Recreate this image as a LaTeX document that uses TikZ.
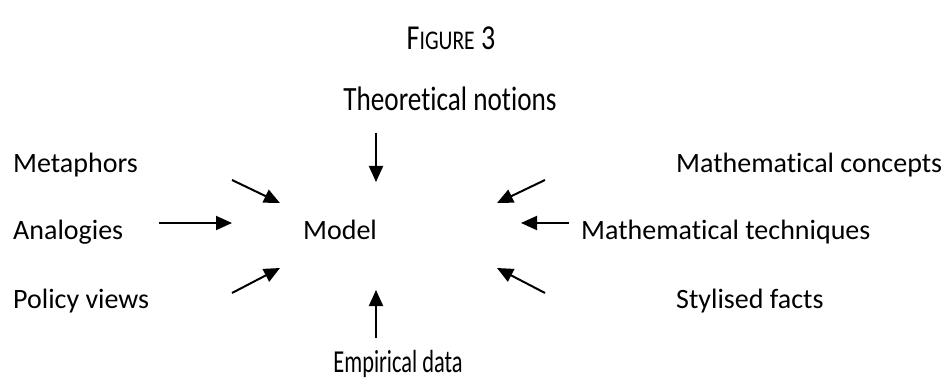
\documentclass[tikz,border=0pt]{standalone}
\usepackage{fontspec}
\setmainfont[Ligatures=NoCommon]{Carlito}
\newfontfamily\narrowfont[FakeStretch=0.8,Ligatures=NoCommon]{Carlito}
\newfontfamily\condfont[FakeStretch=0.7,Ligatures=NoCommon]{Carlito}
\usetikzlibrary{arrows.meta}
\begin{document}
\begin{tikzpicture}[x=1pt,y=-1pt]
\tikzstyle{label}=[inner sep=0pt,text height=18pt,text depth=0pt,font=\fontsize{28}{32}\selectfont]
\tikzstyle{narrow}=[inner sep=0pt,text depth=0pt]
\tikzstyle{arrow}=[draw,line width=2pt,-{Triangle[length=16pt,width=14pt]}]

\useasboundingbox (0,0) rectangle (948,382);

\node[narrow,text height=20pt,font=\narrowfont\fontsize{35}{40}\selectfont] (title) at (451,40) {F{\fontsize{27}{30}\selectfont IGURE} 3};
\node[narrow,text height=21pt,font=\narrowfont\fontsize{34}{38}\selectfont] (theory) at (450,100) {Theoretical notions};
\node[narrow,text height=20pt,font=\condfont\fontsize{32}{36}\selectfont] (data) at (398,362) {Empirical data};

\node[label,anchor=west] (metaphors) at (13,164) {Metaphors};
\node[label,anchor=west] (analogies) at (13,231) {Analogies};
\node[label,anchor=west] (policy) at (13,299) {Policy views};
\node[label] (model) at (340,231) {Model};
\node[label,anchor=west] (concepts) at (676,164) {Mathematical concepts};
\node[label,anchor=west] (techniques) at (581,231) {Mathematical techniques};
\node[label,anchor=west] (facts) at (676,299) {Stylised facts};

% arrow ends
\coordinate (t1) at (376,133); \coordinate (t2) at (376,182);
\coordinate (b1) at (376,338); \coordinate (b2) at (376,290);
\coordinate (m1) at (232,180); \coordinate (m2) at (280,203);
\coordinate (a1) at (159,223); \coordinate (a2) at (232,223);
\coordinate (p1) at (232,293); \coordinate (p2) at (280,268);
\coordinate (c1) at (545,180); \coordinate (c2) at (497,203);
\coordinate (e1) at (569,223); \coordinate (e2) at (521,223);
\coordinate (f1) at (545,293); \coordinate (f2) at (497,268);

\path (t1) edge[arrow] (t2);
\path (b1) edge[arrow] (b2);
\path (m1) edge[arrow] (m2);
\path (a1) edge[arrow] (a2);
\path (p1) edge[arrow] (p2);
\path (c1) edge[arrow] (c2);
\path (e1) edge[arrow] (e2);
\path (f1) edge[arrow] (f2);
\end{tikzpicture}
\end{document}
